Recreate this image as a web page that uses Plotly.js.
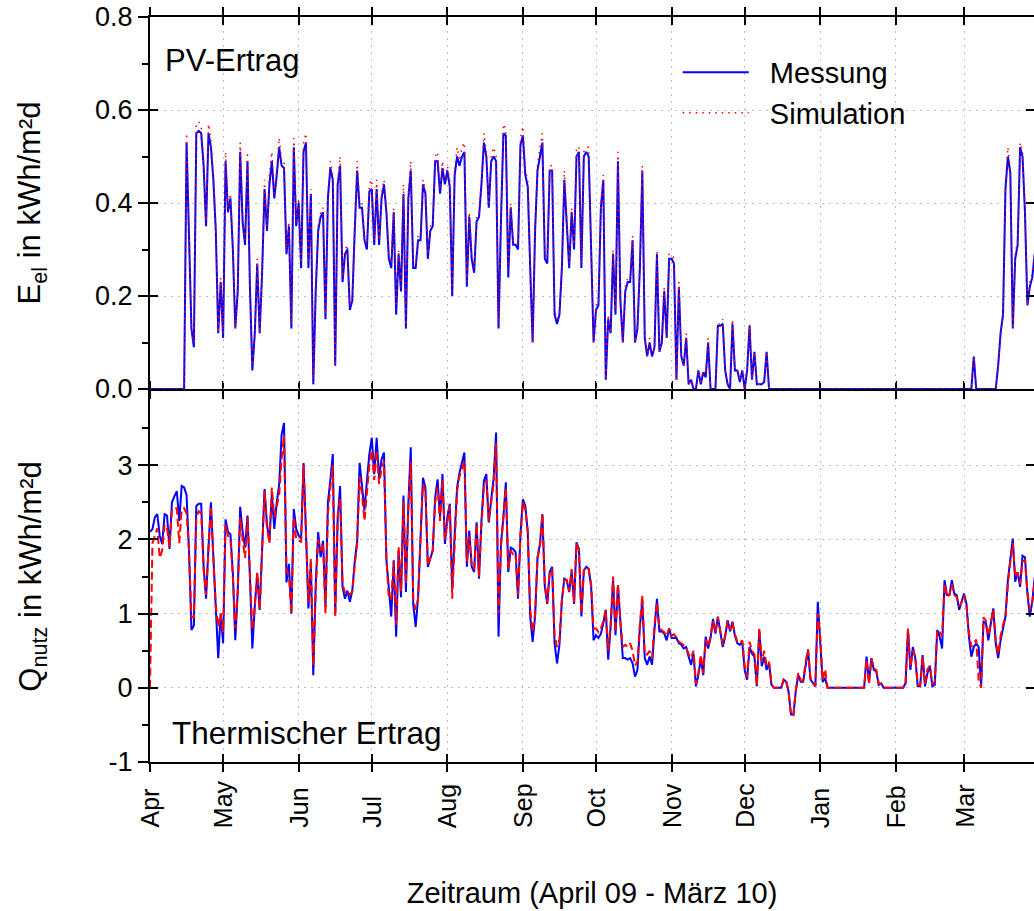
<!DOCTYPE html>
<html>
<head>
<meta charset="utf-8">
<script src="https://cdn.plot.ly/plotly-3.0.1.min.js"></script>
<style>html,body{margin:0;padding:0;background:#fff;}#chart{width:1034px;height:911px;}</style>
</head>
<body>
<div id="chart"></div>
<script>
// ---- data (daily values, 1 Apr 2009 onwards) ----
var startDate = '2009-04-01';
var monthTicks = ['2009-04-01','2009-05-01','2009-06-01','2009-07-01','2009-08-01','2009-09-01','2009-10-01','2009-11-01','2009-12-01','2010-01-01','2010-02-01','2010-03-01'];
var monthLabels = ['Apr','May','Jun','Jul','Aug','Sep','Oct','Nov','Dec','Jan','Feb','Mar'];

// PV-Ertrag, E_el [kWh/m²d]
var pvMessung = [
0,0,0,0,0,0,0,0,0,0,
0,0,0,0,0,0.53,0.30,0.13,0.09,0.55,
0.555,0.55,0.48,0.35,0.55,0.52,0.45,0.34,0.12,0.23,
0.11,0.49,0.38,0.41,0.30,0.13,0.21,0.51,0.36,0.31,
0.49,0.22,0.04,0.12,0.27,0.12,0.25,0.43,0.34,0.44,
0.49,0.41,0.46,0.52,0.48,0.475,0.29,0.35,0.13,0.52,
0.35,0.40,0.26,0.51,0.53,0.26,0.42,0.01,0.21,0.34,
0.37,0.38,0.15,0.41,0.475,0.45,0.05,0.44,0.48,0.23,
0.29,0.30,0.17,0.19,0.34,0.47,0.39,0.39,0.32,0.30,
0.425,0.43,0.31,0.43,0.31,0.41,0.44,0.38,0.28,0.26,
0.38,0.16,0.29,0.21,0.42,0.13,0.41,0.47,0.26,0.26,
0.32,0.32,0.44,0.42,0.28,0.34,0.35,0.49,0.49,0.42,
0.475,0.44,0.47,0.435,0.20,0.46,0.50,0.48,0.50,0.51,
0.22,0.37,0.28,0.25,0.36,0.37,0.44,0.53,0.50,0.39,
0.49,0.50,0.49,0.13,0.36,0.55,0.545,0.24,0.39,0.31,
0.31,0.30,0.525,0.545,0.46,0.435,0.26,0.10,0.34,0.47,
0.50,0.53,0.28,0.27,0.47,0.47,0.16,0.14,0.16,0.26,
0.45,0.35,0.26,0.38,0.30,0.50,0.51,0.26,0.50,0.51,
0.50,0.30,0.10,0.17,0.18,0.39,0.45,0.02,0.15,0.12,
0.29,0.16,0.49,0.19,0.10,0.21,0.23,0.23,0.32,0.10,
0.13,0.26,0.47,0.11,0.07,0.10,0.07,0.09,0.29,0.08,
0.10,0.21,0.11,0.28,0.28,0.27,0.02,0.22,0.07,0.05,
0.11,0.01,0.02,0,0,0.04,0.01,0.036,0.025,0.10,
0,0,0,0.136,0.136,0.14,0.04,0.01,0,0.14,
0.04,0.04,0.015,0.04,0,0.04,0.136,0.02,0.08,0.01,
0.01,0.01,0.015,0.08,0,0,0,0,0,0,
0,0,0,0,0,0,0,0,0,0,
0,0,0,0,0,0,0,0,0,0,
0,0,0,0,0,0,0,0,0,0,
0,0,0,0,0,0,0,0,0,0,
0,0,0,0,0,0,0,0,0,0,
0,0,0,0,0,0,0,0,0,0,
0,0,0,0,0,0,0,0,0,0,
0,0,0,0,0,0,0,0,0.07,0,
0,0,0,0,0,0,0,0,0.05,0.12,
0.16,0.43,0.50,0.465,0.13,0.28,0.31,0.52,0.50,0.38,
0.18,0.22,0.24,0.29,0.29
];
var pvSimulation = [
0,0,0,0,0,0,0,0,0,0,
0,0,0,0,0,0.55,0.31,0.13,0.10,0.57,
0.575,0.565,0.49,0.36,0.57,0.535,0.46,0.35,0.12,0.24,
0.12,0.51,0.39,0.42,0.31,0.13,0.22,0.53,0.37,0.32,
0.51,0.23,0.05,0.12,0.28,0.12,0.26,0.45,0.35,0.46,
0.51,0.42,0.47,0.54,0.49,0.49,0.30,0.36,0.14,0.54,
0.36,0.41,0.27,0.53,0.55,0.27,0.43,0.02,0.22,0.35,
0.38,0.39,0.16,0.42,0.49,0.46,0.05,0.45,0.50,0.24,
0.30,0.31,0.18,0.20,0.35,0.49,0.40,0.40,0.33,0.31,
0.44,0.45,0.32,0.45,0.32,0.42,0.45,0.39,0.29,0.27,
0.39,0.17,0.30,0.22,0.44,0.13,0.42,0.49,0.27,0.27,
0.33,0.33,0.45,0.43,0.29,0.35,0.36,0.50,0.51,0.43,
0.49,0.45,0.48,0.45,0.21,0.47,0.52,0.49,0.52,0.53,
0.23,0.38,0.29,0.26,0.37,0.38,0.45,0.55,0.51,0.40,
0.50,0.52,0.50,0.14,0.37,0.57,0.56,0.25,0.40,0.32,
0.32,0.31,0.54,0.565,0.47,0.45,0.27,0.10,0.35,0.48,
0.52,0.55,0.29,0.28,0.48,0.48,0.17,0.15,0.16,0.27,
0.47,0.36,0.27,0.39,0.31,0.52,0.52,0.27,0.51,0.52,
0.52,0.31,0.10,0.18,0.19,0.40,0.46,0.02,0.16,0.12,
0.30,0.17,0.51,0.20,0.10,0.22,0.24,0.24,0.33,0.10,
0.14,0.27,0.48,0.11,0.07,0.11,0.07,0.09,0.30,0.08,
0.11,0.22,0.11,0.29,0.29,0.28,0.02,0.23,0.07,0.05,
0.12,0.01,0.02,0,0,0.04,0.01,0.04,0.03,0.11,
0,0,0,0.14,0.14,0.15,0.04,0.01,0,0.15,
0.04,0.04,0.02,0.04,0,0.04,0.14,0.02,0.08,0.01,
0.01,0.01,0.02,0.08,0,0,0,0,0,0,
0,0,0,0,0,0,0,0,0,0,
0,0,0,0,0,0,0,0,0,0,
0,0,0,0,0,0,0,0,0,0,
0,0,0,0,0,0,0,0,0,0,
0,0,0,0,0,0,0,0,0,0,
0,0,0,0,0,0,0,0,0,0,
0,0,0,0,0,0,0,0,0,0,
0,0,0,0,0,0,0,0,0.07,0,
0,0,0,0,0,0,0,0,0.05,0.12,
0.17,0.44,0.52,0.47,0.13,0.29,0.32,0.53,0.51,0.39,
0.18,0.23,0.25,0.30,0.30
];

// Thermischer Ertrag, Q_nutz [kWh/m²d]
var thMessung = [
2.10,2.14,2.30,2.34,2.05,1.94,2.34,2.32,1.87,2.50,
2.58,2.65,2.25,2.72,2.70,2.60,1.85,0.78,0.84,2.45,
2.48,2.48,1.63,1.20,1.90,2.50,1.76,1.09,0.40,1.00,
0.60,2.27,2.10,2.07,1.54,0.64,1.30,2.44,2.10,1.89,
2.32,1.49,0.53,1.10,1.54,1.05,1.80,2.68,2.20,1.98,
2.61,2.14,2.50,2.74,3.41,3.57,1.42,1.67,1.00,2.41,
2.14,2.05,2.01,3.03,2.10,1.07,1.67,0.17,1.40,2.10,
1.76,1.98,1.09,2.50,2.80,3.15,1.00,2.27,2.72,1.36,
1.20,1.31,1.16,1.31,1.70,1.98,3.03,2.74,2.39,2.79,
3.15,3.37,2.88,3.37,2.83,3.08,3.17,1.72,1.31,0.96,
1.72,0.69,1.85,1.22,2.59,1.29,2.48,3.24,1.13,0.82,
1.22,2.03,2.83,2.70,1.63,1.74,1.85,2.56,2.81,2.30,
2.88,1.94,2.30,2.48,1.34,2.07,2.70,2.90,3.03,3.17,
1.63,2.12,1.63,1.56,2.23,1.47,2.25,2.79,2.88,2.23,
2.54,2.83,3.44,0.69,1.94,2.30,2.77,1.56,1.89,1.87,
1.83,1.20,2.07,2.54,2.45,2.10,0.96,0.62,0.96,1.76,
1.94,2.34,1.36,1.13,1.56,1.63,0.60,0.33,0.58,1.18,
1.47,1.45,1.29,1.58,1.13,1.96,1.87,0.96,1.58,1.63,
1.60,1.36,0.64,0.71,0.67,0.73,0.87,1.05,0.38,0.82,
1.45,0.71,1.38,0.87,0.40,0.40,0.38,0.40,0.33,0.15,
0.24,0.82,1.18,0.40,0.31,0.42,0.31,0.78,1.20,0.76,
0.76,0.73,0.64,0.80,0.67,0.67,0.67,0.60,0.58,0.53,
0.55,0.42,0.31,0.46,0.02,0.17,0.40,0.17,0.69,0.53,
0.67,0.93,0.73,0.96,0.73,0.55,0.69,0.91,0.76,0.89,
0.70,0.60,0.58,0.62,0.24,0.11,0.55,0.46,0.42,0.02,
0.78,0.29,0.42,0.24,0.33,0.04,0,0,0,0,
0.11,0.08,-0.05,-0.36,-0.36,-0.03,0.17,0.08,0.08,0.29,
0.51,0.11,0.06,0.02,1.16,0.64,0.08,0.13,0,0,
0,0,0,0,0,0,0,0,0,0,
0,0,0,0,0.42,0.08,0.40,0.24,0.22,0.04,
0.06,0,0,0,0,0,0,0,0,0,
0.06,0.78,0.24,0.55,0.40,0.02,0.02,0.44,0.02,0.20,
0.29,0.02,0.04,0.78,0.69,0.53,1.45,1.25,1.25,1.45,
1.27,1.25,1.05,1.16,1.27,1.13,0.69,0.42,0.55,0.60,
0.55,0.02,0.89,0.87,0.64,0.87,1.07,0.60,0.40,0.64,
0.82,0.96,1.45,1.72,2.01,1.43,1.56,1.36,1.78,1.76,
1.27,0.96,1.16,1.49,1.30
];
var thSimulation = [
0.00,1.95,2.05,2.15,1.75,1.85,2.20,2.15,1.90,2.40,
2.42,2.42,1.95,2.40,2.42,2.35,1.85,0.95,0.95,2.30,
2.38,2.35,1.60,1.25,1.85,2.45,1.75,1.10,0.82,1.00,
0.75,2.20,2.05,2.00,1.50,0.80,1.30,2.30,2.00,1.75,
2.30,1.45,0.78,1.10,1.55,1.05,1.80,2.65,2.15,1.95,
2.70,2.30,2.45,2.60,3.10,3.40,1.60,1.50,1.00,2.30,
2.00,1.98,1.97,3.00,2.10,1.15,1.75,0.30,1.30,2.00,
1.85,1.95,1.00,2.35,2.70,3.00,0.95,2.30,2.55,1.40,
1.28,1.30,1.25,1.30,1.65,1.95,2.85,2.60,2.25,2.61,
3.00,3.20,2.80,3.20,2.75,2.95,3.05,1.75,1.20,1.20,
1.70,0.85,1.90,1.30,2.50,1.40,2.40,3.05,1.20,1.05,
1.20,2.00,2.75,2.65,1.65,1.75,1.85,2.50,2.70,2.25,
2.80,2.00,2.20,2.45,1.20,2.00,2.65,2.85,2.95,3.05,
1.70,2.05,1.65,1.60,2.20,1.50,2.20,2.70,2.80,2.25,
2.50,2.75,3.30,1.00,1.90,2.25,2.70,1.60,1.85,1.80,
1.80,1.25,2.05,2.50,2.40,2.10,1.05,0.75,1.00,1.75,
1.90,2.35,1.40,1.15,1.55,1.60,0.70,0.55,0.65,1.20,
1.45,1.45,1.30,1.60,1.15,1.95,1.85,1.00,1.58,1.63,
1.60,1.40,0.80,0.80,0.75,0.80,0.90,1.05,0.50,0.85,
1.50,0.75,1.40,0.90,0.55,0.58,0.55,0.60,0.50,0.30,
0.35,0.85,1.25,0.45,0.45,0.50,0.40,0.85,1.15,0.80,
0.78,0.75,0.70,0.80,0.70,0.72,0.68,0.62,0.60,0.58,
0.55,0.45,0.40,0.50,0.05,0.20,0.45,0.20,0.65,0.55,
0.70,0.90,0.75,0.95,0.75,0.58,0.70,0.90,0.78,0.88,
0.72,0.62,0.60,0.64,0.30,0.15,0.62,0.50,0.45,0.03,
0.80,0.35,0.50,0.30,0.35,0.05,0,0,0,0,
0.12,0.10,-0.05,-0.37,-0.37,-0.03,0.20,0.10,0.10,0.35,
0.52,0.13,0.07,0.02,1.00,0.70,0.10,0.25,0,0,
0,0,0,0,0,0,0,0,0,0,
0,0,0,0,0.38,0.05,0.40,0.26,0.24,0.06,
0.05,0,0,0,0,0,0,0,0,0,
0.05,0.80,0.28,0.50,0.42,0.04,0.03,0.42,0.05,0.25,
0.30,0.05,0.08,0.78,0.75,0.70,1.40,1.22,1.25,1.40,
1.25,1.22,1.10,1.15,1.25,1.10,0.75,0.55,0.60,0.65,
0.10,0.00,0.95,0.90,0.70,0.90,1.05,0.65,0.45,0.70,
0.85,0.95,1.40,1.70,1.95,1.50,1.55,1.40,1.70,1.72,
1.30,1.05,1.15,1.45,1.35
];

// ---- build day axis from start date ----
function dayList(start, n) {
  var p = start.split('-').map(Number);
  var t0 = Date.UTC(p[0], p[1]-1, p[2]);
  var out = [];
  for (var i = 0; i < n; i++) out.push(new Date(t0 + i*86400000).toISOString().slice(0,10));
  return out;
}
var days = dayList(startDate, pvMessung.length);
var xRange = ['2009-04-01', '2010-03-29 17:00'];

var FONT = 'Liberation Sans, Arial, Helvetica, sans-serif';
var BLUE = '#0000ff', RED = '#ff0000';
var gridCol = '#bdbdbd', gridDash = '2px,5px';

var traces = [
  {x: days, y: pvMessung, xaxis:'x2', yaxis:'y2', type:'scatter', mode:'lines', name:'\u00a0\u00a0Messung',
   line:{color:BLUE, width:2}},
  {x: days, y: pvSimulation, xaxis:'x2', yaxis:'y2', type:'scatter', mode:'lines', name:'\u00a0\u00a0Simulation',
   line:{color:RED, width:1.5, dash:'1.5px,5px'}},
  {x: days, y: thMessung, xaxis:'x', yaxis:'y', type:'scatter', mode:'lines', name:'Messung',
   line:{color:BLUE, width:2}, showlegend:false},
  {x: days, y: thSimulation, xaxis:'x', yaxis:'y', type:'scatter', mode:'lines', name:'Simulation',
   line:{color:RED, width:2, dash:'8px,4px'}, showlegend:false},
  {x: [], y: [], xaxis:'x3', yaxis:'y3', type:'scatter', mode:'lines', showlegend:false, hoverinfo:'skip'},
  {x: [], y: [], xaxis:'x4', yaxis:'y4', type:'scatter', mode:'lines', showlegend:false, hoverinfo:'skip'}
];

var botTop = 371/745, topBot = 373/745;
var commonX = {type:'date', range:xRange, tickmode:'array', tickvals:monthTicks, ticktext:monthLabels,
  showline:true, linecolor:'#000', linewidth:2, tickcolor:'#000', tickwidth:2, zeroline:false};

// month labels: rotated, bottom-aligned below the axis
var monthAnn = monthTicks.map(function(d, i) {
  return {text: monthLabels[i], xref:'x', yref:'paper', x: d, y: -0.0913, xanchor:'center', yanchor:'bottom',
    textangle:-90, showarrow:false, font:{family:FONT, size:25, color:'#000'}};
});

var layout = {
  width:1034, height:911, autosize:false,
  margin:{l:150, r:0, t:17, b:149, pad:0},
  paper_bgcolor:'#fff', plot_bgcolor:'#fff',
  font:{family:FONT, color:'#000', size:24},
  showlegend:true,
  legend:{x:0.597, y:0.960, xanchor:'left', yanchor:'top', bgcolor:'rgba(0,0,0,0)',
    font:{family:FONT, size:29, color:'#000'}, itemwidth:66, traceorder:'normal'},
  xaxis: Object.assign({}, commonX, {anchor:'y', domain:[0,1], ticks:'outside', ticklen:8, mirror:'allticks',
    showgrid:true, gridcolor:gridCol, gridwidth:1, griddash:gridDash, showticklabels:false,
    title:{text:'Zeitraum (April 09 - März 10)', font:{family:FONT, size:29}, standoff:112}}),
  xaxis2: Object.assign({}, commonX, {anchor:'y2', domain:[0,1], ticks:'outside', ticklen:8, mirror:'allticks',
    showgrid:true, gridcolor:gridCol, gridwidth:1, griddash:gridDash, showticklabels:false}),
  xaxis3: Object.assign({}, commonX, {overlaying:'x', anchor:'y3', side:'bottom', ticks:'inside', ticklen:8,
    showgrid:false, showticklabels:false, showline:false}),
  xaxis4: Object.assign({}, commonX, {overlaying:'x2', anchor:'y4', side:'top', ticks:'inside', ticklen:8,
    showgrid:false, showticklabels:false, showline:false}),
  yaxis: {anchor:'x', domain:[0, botTop], range:[-1,4], tickmode:'array', tickvals:[-1,0,1,2,3], ticktext:['-1','0','1','2','3'],
    ticks:'outside', ticklen:10, tickwidth:2, tickcolor:'#000', mirror:'allticks',
    showline:true, linecolor:'#000', linewidth:2, zeroline:false,
    showgrid:true, gridcolor:gridCol, gridwidth:1, griddash:gridDash,
    minor:{tickmode:'array', tickvals:[-0.5,0.5,1.5,2.5,3.5], ticks:'outside', ticklen:6, tickwidth:2, tickcolor:'#000', showgrid:false},
    tickfont:{family:FONT, size:27},
    title:{text:'Q<sub>nutz</sub> in kWh/m²d', font:{family:FONT, size:31}, standoff:58}},
  yaxis2: {anchor:'x2', domain:[topBot, 1], range:[0,0.8], tickmode:'linear', tick0:0, dtick:0.2, tickformat:'.1f',
    ticks:'outside', ticklen:10, tickwidth:2, tickcolor:'#000', mirror:'allticks',
    showline:true, linecolor:'#000', linewidth:2, zeroline:false,
    showgrid:true, gridcolor:gridCol, gridwidth:1, griddash:gridDash,
    minor:{tickmode:'linear', tick0:0.1, dtick:0.2, ticks:'outside', ticklen:6, tickwidth:2, tickcolor:'#000', showgrid:false},
    tickfont:{family:FONT, size:27},
    title:{text:'E<sub>el</sub> in kWh/m²d', font:{family:FONT, size:31}, standoff:45}},
  yaxis3: {overlaying:'y', anchor:'x3', side:'left', range:[-1,4], tickmode:'array', tickvals:[-1,0,1,2,3],
    ticks:'inside', ticklen:8, tickwidth:2, tickcolor:'#000', mirror:'allticks',
    showline:false, showgrid:false, zeroline:false, showticklabels:false},
  yaxis4: {overlaying:'y2', anchor:'x4', side:'left', range:[0,0.8], tickmode:'linear', tick0:0, dtick:0.2,
    ticks:'inside', ticklen:8, tickwidth:2, tickcolor:'#000', mirror:'allticks',
    showline:false, showgrid:false, zeroline:false, showticklabels:false},
  annotations:[
    {text:'PV-Ertrag', xref:'paper', yref:'paper', x:0.0147, y:0.942, xanchor:'left', yanchor:'middle',
     showarrow:false, font:{family:FONT, size:31, color:'#000'}},
    {text:'Thermischer Ertrag', xref:'paper', yref:'paper', x:0.0226, y:0.039, xanchor:'left', yanchor:'middle',
     showarrow:false, font:{family:FONT, size:31.5, color:'#000'}}
  ].concat(monthAnn)
};

Plotly.newPlot('chart', traces, layout, {displayModeBar:false, staticPlot:true});
</script>
</body>
</html>
